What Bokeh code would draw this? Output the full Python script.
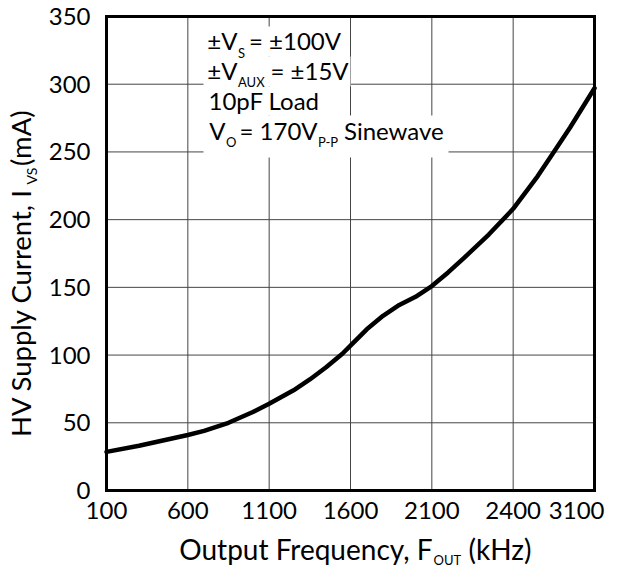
import math
from bokeh.plotting import figure
from bokeh.models import Label, BoxAnnotation, Range1d
from bokeh.core.properties import value
from bokeh.embed import file_html
from bokeh.resources import INLINE

# ---- data ----
# frequency on the chart's linear 500 kHz-per-division scale
freq_khz = [100, 300, 600, 700, 850, 1000, 1100, 1250, 1350, 1450, 1550, 1600,
            1700, 1800, 1900, 2000, 2100, 2200, 2300, 2450, 2600, 2750, 2850,
            2950, 3100]
supply_ma = [28.5, 33, 41, 44, 50, 58, 64, 74, 82, 91, 101, 107,
             119, 129, 137, 143, 151, 161, 172, 189, 208, 232, 250,
             268, 297]

x_ticks = [100, 600, 1100, 1600, 2100, 2600, 3100]
x_tick_labels = ["100", "600", "1100", "1600", "2100", "2400", "3100"]
y_ticks = [0, 50, 100, 150, 200, 250, 300, 350]
y_tick_labels = ["0", "50", "100", "150", "200", "250", "300", "350"]

# ---- layout (canvas pixels) ----
FONT = "Lato"
W, H = 605, 569
PX_L, PX_R, PX_T, PX_B = 106, 594, 16, 490   # plot box edges

x0, x1 = x_ticks[0], x_ticks[-1]
y0, y1 = y_ticks[0], y_ticks[-1]
kx = (x1 - x0) / (PX_R - PX_L)
ky = (y1 - y0) / (PX_B - PX_T)
x_range = Range1d(x0 - PX_L * kx, x1 + (W - PX_R) * kx)
y_range = Range1d(y0 - (H - PX_B) * ky, y1 + PX_T * ky)

p = figure(width=W, height=H, output_backend="svg", toolbar_location=None,
           x_range=x_range, y_range=y_range,
           x_axis_location=None, y_axis_location=None, min_border=0)
p.grid.visible = False
p.outline_line_color = None
p.background_fill_color = "white"
p.border_fill_color = "white"

GRID = "#454545"
# grid lines
p.segment(x0=x_ticks[1:-1], y0=[y0] * (len(x_ticks) - 2),
          x1=x_ticks[1:-1], y1=[y1] * (len(x_ticks) - 2),
          line_color=GRID, line_width=1)
p.segment(x0=[x0] * (len(y_ticks) - 2), y0=y_ticks[1:-1],
          x1=[x1] * (len(y_ticks) - 2), y1=y_ticks[1:-1],
          line_color=GRID, line_width=1)

# curve
p.line(freq_khz, supply_ma, line_color="black", line_width=4.5,
       line_join="round", line_cap="round")

# plot box
p.quad(left=[x0], right=[x1], bottom=[y0], top=[y1], fill_color=None,
       line_color="black", line_width=3, line_join="miter")

# tick labels
TICK = "24px"
p.text(x=x_ticks[:-1], y=[y0] * (len(x_ticks) - 1), text=x_tick_labels[:-1],
       y_offset=20, text_align="center", text_baseline="middle",
       text_font=value(FONT), text_font_size=TICK, text_color="black")
p.text(x=x_ticks[-1:], y=[y0], text=x_tick_labels[-1:],
       x_offset=W - PX_R - 1, y_offset=20, text_align="right",
       text_baseline="middle",
       text_font=value(FONT), text_font_size=TICK, text_color="black")
p.text(x=[x0] * len(y_ticks), y=y_ticks, text=y_tick_labels,
       x_offset=-16, y_offset=0, text_align="right", text_baseline="middle",
       text_font=value(FONT), text_font_size=TICK, text_color="black")

# white boxes behind the annotation lines
for l, r, t, b in [(203, 346, 26, 56), (203, 350, 56, 86),
                   (203, 326, 86, 115), (203, 448, 115, 157)]:
    p.add_layout(BoxAnnotation(left=l, right=r, top=t, bottom=b,
                               left_units="canvas", right_units="canvas",
                               top_units="canvas", bottom_units="canvas",
                               fill_color="white", fill_alpha=1.0,
                               line_color=None))


def lab(text, x, y, size, align="left", angle=0.0):
    # y is where the capitals' centre lands in the rendered picture
    p.add_layout(Label(text=text, x=x, y=y, x_units="canvas", y_units="canvas",
                       text_font=FONT, text_font_size=f"{size}px",
                       text_align=align, text_baseline="alphabetic",
                       angle=angle, text_color="black"))


SUB = 12  # subscript drop
# annotation block
lab("±V", 237, 40, 24, "right")
lab("S", 237.5, 40 + SUB, 13)
lab("= ±100V", 248.5, 40, 24)

lab("±V", 237, 69.5, 24, "right")
lab("AUX", 237.5, 69.5 + SUB, 13)
lab("= ±15V", 270, 69.5, 24)

lab("10pF Load", 208, 99.5, 24)

lab("V", 225, 129.5, 24, "right")
lab("O", 225.5, 129.5 + SUB, 13)
lab("= 170V", 239, 129.5, 24)
lab("P-P", 317.5, 129.5 + SUB, 13)
lab("Sinewave", 343.5, 129.5, 24)

# x axis title
lab("Output Frequency, F", 432, 548, 28, "right")
lab("OUT", 433, 559, 13)
lab("(kHz)", 468, 548, 28)

# y axis title (rotated)
A = math.pi / 2
lab("HV Supply Current, I", 19.5, 188, 27.5, "right", A)
lab("VS", 30.5, 184, 14, "left", A)
lab("(mA)", 19.5, 165.5, 27.5, "left", A)

open("out.html", "w").write(file_html(p, INLINE))
